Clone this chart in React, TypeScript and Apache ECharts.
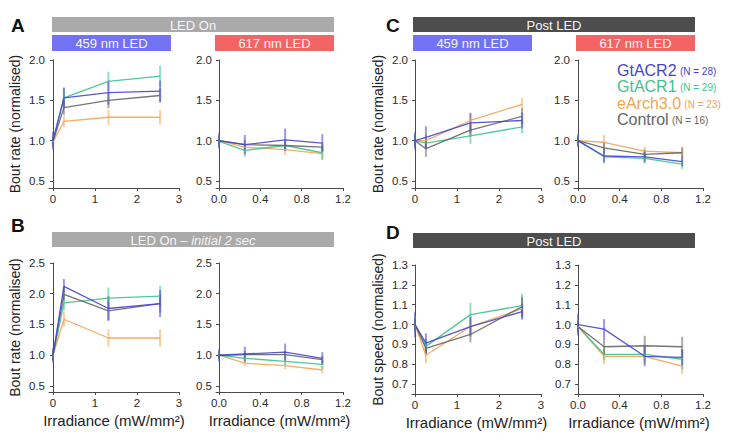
import React, { useEffect, useRef } from "react";
import * as echarts from "echarts";

// Irradiance (mW/mm²) of the stimulation steps
const blueIrr = [0, 0.26, 1.32, 2.55];
const redIrr = [0, 0.25, 0.64, 1.0];

const groups = ["GtACR2", "GtACR1", "eArch3.0", "Control"];
const groupN = [28, 29, 23, 16];
const groupColors = ["#4545d0", "#3fc28d", "#f5a352", "#666666"];

// rows: GtACR2, GtACR1, eArch3.0, Control
// A – LED On, bout rate
const aBlueMean = [[1.0, 1.53, 1.595, 1.615], [1.0, 1.53, 1.735, 1.8], [0.98, 1.24, 1.29, 1.29], [0.99, 1.41, 1.5, 1.56]];
const aBlueErr = [[0.11, 0.13, 0.15, 0.13], [0.08, 0.12, 0.12, 0.13], [0.08, 0.07, 0.09, 0.09], [0.06, 0.09, 0.1, 0.09]];
const aRedMean = [[1.0, 0.95, 1.01, 0.97], [0.99, 0.88, 0.94, 0.85], [1.0, 0.92, 0.89, 0.84], [1.0, 0.95, 0.94, 0.92]];
const aRedErr = [[0.1, 0.12, 0.14, 0.11], [0.07, 0.08, 0.06, 0.09], [0.06, 0.05, 0.07, 0.07], [0.05, 0.06, 0.05, 0.05]];

// B – LED On, initial 2 sec, bout rate
const bBlueMean = [[1.0, 2.12, 1.76, 1.84], [0.98, 1.85, 1.93, 1.96], [1.0, 1.585, 1.28, 1.28], [1.0, 1.99, 1.72, 1.84]];
const bBlueErr = [[0.12, 0.12, 0.2, 0.22], [0.06, 0.12, 0.17, 0.17], [0.1, 0.12, 0.14, 0.14], [0.08, 0.1, 0.15, 0.15]];
const bRedMean = [[1.0, 1.02, 1.05, 0.95], [1.0, 0.95, 0.9, 0.85], [1.0, 0.87, 0.83, 0.76], [1.0, 1.01, 1.01, 0.93]];
const bRedErr = [[0.1, 0.12, 0.14, 0.1], [0.06, 0.06, 0.07, 0.07], [0.05, 0.05, 0.06, 0.06], [0.05, 0.06, 0.06, 0.06]];

// C – Post LED, bout rate
const cBlueMean = [[1.0, 1.04, 1.22, 1.25], [1.0, 0.97, 1.06, 1.17], [1.0, 1.0, 1.25, 1.45], [1.0, 0.9, 1.13, 1.3]];
const cBlueErr = [[0.11, 0.14, 0.12, 0.1], [0.08, 0.07, 0.1, 0.08], [0.08, 0.08, 0.1, 0.08], [0.08, 0.1, 0.08, 0.1]];
const cRedMean = [[1.0, 0.81, 0.8, 0.74], [1.0, 0.8, 0.78, 0.71], [1.0, 0.98, 0.87, 0.85], [1.0, 0.91, 0.83, 0.85]];
const cRedErr = [[0.08, 0.09, 0.07, 0.06], [0.06, 0.06, 0.06, 0.06], [0.06, 0.09, 0.06, 0.08], [0.05, 0.06, 0.06, 0.06]];

// D – Post LED, bout speed
const dBlueMean = [[1.0, 0.906, 0.99, 1.065], [1.0, 0.89, 1.05, 1.095], [1.0, 0.845, 0.99, 1.08], [1.0, 0.88, 0.95, 1.09]];
const dBlueErr = [[0.065, 0.05, 0.05, 0.04], [0.04, 0.04, 0.06, 0.06], [0.04, 0.04, 0.04, 0.05], [0.03, 0.03, 0.04, 0.05]];
const dRedMean = [[1.0, 0.977, 0.84, 0.835], [0.99, 0.85, 0.85, 0.825], [0.99, 0.84, 0.84, 0.79], [0.99, 0.888, 0.893, 0.888]];
const dRedErr = [[0.055, 0.05, 0.05, 0.04], [0.03, 0.03, 0.04, 0.05], [0.03, 0.04, 0.04, 0.04], [0.03, 0.04, 0.05, 0.05]];

const rateTicks = [0.5, 1.0, 1.5, 2.0];
const rateTicksB = [0.5, 1.0, 1.5, 2.0, 2.5];
const speedTicks = [0.7, 0.8, 0.9, 1.0, 1.1, 1.2, 1.3];
const blueXTicks = [0, 1, 2, 3];
const redXTicks = [0, 0.4, 0.8, 1.2];

const FONT = "Liberation Sans, Arial, Helvetica, sans-serif";
const AXIS_COLOR = "#4a4a4a";
const DRAW_ORDER = [2, 1, 3, 0];

type Panel = {
  left: number; top: number; width: number; height: number;
  xMin: number; xMax: number; xTicks: number[]; xDigits: number;
  yMin: number; yMax: number; yTicks: number[];
  irr: number[]; mean: number[][]; err: number[][];
  yTitle?: string; xTitle?: boolean;
};

const panels: Panel[] = [
  { left: 49, top: 60, width: 130, height: 128, xMin: -0.095, xMax: 3, xTicks: blueXTicks, xDigits: 0, yMin: 0.413, yMax: 2.0, yTicks: rateTicks, irr: blueIrr, mean: aBlueMean, err: aBlueErr, yTitle: "Bout rate (normalised)" },
  { left: 216, top: 60, width: 127, height: 128, xMin: -0.029, xMax: 1.2, xTicks: redXTicks, xDigits: 1, yMin: 0.413, yMax: 2.0, yTicks: rateTicks, irr: redIrr, mean: aRedMean, err: aRedErr },
  { left: 412, top: 60, width: 129, height: 128, xMin: -0.071, xMax: 3, xTicks: blueXTicks, xDigits: 0, yMin: 0.413, yMax: 2.0, yTicks: rateTicks, irr: blueIrr, mean: cBlueMean, err: cBlueErr, yTitle: "Bout rate (normalised)" },
  { left: 574, top: 60, width: 129, height: 128, xMin: -0.038, xMax: 1.2, xTicks: redXTicks, xDigits: 1, yMin: 0.413, yMax: 2.0, yTicks: rateTicks, irr: redIrr, mean: cRedMean, err: cRedErr },
  { left: 49, top: 263, width: 130, height: 129, xMin: -0.095, xMax: 3, xTicks: blueXTicks, xDigits: 0, yMin: 0.402, yMax: 2.5, yTicks: rateTicksB, irr: blueIrr, mean: bBlueMean, err: bBlueErr, yTitle: "Bout rate (normalised)", xTitle: true },
  { left: 216, top: 263, width: 127, height: 129, xMin: -0.029, xMax: 1.2, xTicks: redXTicks, xDigits: 1, yMin: 0.402, yMax: 2.5, yTicks: rateTicksB, irr: redIrr, mean: bRedMean, err: bRedErr, xTitle: true },
  { left: 412, top: 265, width: 129, height: 129, xMin: -0.071, xMax: 3, xTicks: blueXTicks, xDigits: 0, yMin: 0.65, yMax: 1.3, yTicks: speedTicks, irr: blueIrr, mean: dBlueMean, err: dBlueErr, yTitle: "Bout speed (normalised)", xTitle: true },
  { left: 575, top: 265, width: 128, height: 129, xMin: -0.029, xMax: 1.2, xTicks: redXTicks, xDigits: 1, yMin: 0.65, yMax: 1.3, yTicks: speedTicks, irr: redIrr, mean: dRedMean, err: dRedErr, xTitle: true },
];

function buildOption() {
  const grid: any[] = [];
  const xAxis: any[] = [];
  const yAxis: any[] = [];
  const series: any[] = [];

  panels.forEach((p, i) => {
    grid.push({ left: p.left, top: p.top, width: p.width, height: p.height, containLabel: false, outerBoundsMode: "none" });
    const axisLine = { show: true, lineStyle: { color: AXIS_COLOR, width: 1 } };
    xAxis.push({
      type: "value", gridIndex: i, min: p.xMin, max: p.xMax,
      axisLine, splitLine: { show: false },
      axisTick: { show: true, length: 3, lineStyle: { color: AXIS_COLOR }, customValues: p.xTicks },
      axisLabel: { customValues: p.xTicks, margin: 5, fontSize: 11.5, color: "#2a2a2a", fontFamily: FONT, formatter: (v: number) => v.toFixed(p.xDigits) },
      name: p.xTitle ? "Irradiance (mW/mm²)" : "",
      nameLocation: "middle", nameGap: 21,
      nameTextStyle: { fontSize: 15, color: "#222", fontFamily: FONT },
    });
    yAxis.push({
      type: "value", gridIndex: i, min: p.yMin, max: p.yMax,
      axisLine, splitLine: { show: false },
      axisTick: { show: true, length: 3, lineStyle: { color: AXIS_COLOR }, customValues: p.yTicks },
      axisLabel: { customValues: p.yTicks, margin: 4, fontSize: 11.5, color: "#2a2a2a", fontFamily: FONT, formatter: (v: number) => v.toFixed(1) },
      name: p.yTitle || "",
      nameLocation: "middle", nameRotate: 90, nameGap: 27,
      nameTextStyle: { fontSize: 14, color: "#222", fontFamily: FONT },
    });

    DRAW_ORDER.forEach((g) => {
      const color = groupColors[g];
      series.push({
        type: "custom", name: groups[g], xAxisIndex: i, yAxisIndex: i,
        data: p.irr.map((x, k) => [x, p.mean[g][k], p.err[g][k]]),
        encode: { x: 0, y: 1 },
        renderItem: (params: any, api: any) => {
          const x = api.value(0), y = api.value(1), e = api.value(2);
          const a = api.coord([x, y - e]);
          const b = api.coord([x, y + e]);
          return { type: "line", shape: { x1: a[0], y1: a[1], x2: b[0], y2: b[1] }, style: { stroke: color, lineWidth: 2, opacity: 0.55 } };
        },
        z: 2,
      });
      series.push({
        type: "line", name: groups[g], xAxisIndex: i, yAxisIndex: i,
        data: p.irr.map((x, k) => [x, p.mean[g][k]]),
        showSymbol: false, symbol: "none",
        lineStyle: { color, width: 1.3, opacity: 0.9 },
        z: 3,
      });
    });
  });

  const banner = (x: number, y: number, w: number, h: number, fill: string, text: string, rich?: any) => ({
    type: "group", x, y,
    children: [
      { type: "rect", shape: { x: 0, y: 0, width: w, height: h }, style: { fill } },
      { type: "text", x: w / 2, y: h / 2 + 0.5, style: { text, rich, fill: "#f4f4f4", font: `13px ${FONT}`, textAlign: "center", textVerticalAlign: "middle" } },
    ],
  });
  const letter = (x: number, y: number, t: string) => ({
    type: "text", x, y, style: { text: t, fill: "#111", font: `bold 19px ${FONT}`, textVerticalAlign: "middle" },
  });

  const graphic: any[] = [
    letter(11, 25, "A"), letter(386, 25, "C"), letter(11, 225, "B"), letter(386, 232, "D"),
    banner(52, 17, 282, 15, "#aaaaaa", "LED On"),
    banner(52, 35, 119, 16, "#7272f2", "459 nm LED"),
    banner(215, 35, 119, 16, "#f46464", "617 nm LED"),
    banner(413, 17, 282, 15, "#4d4d4d", "Post LED"),
    banner(413, 35, 119, 16, "#7272f2", "459 nm LED"),
    banner(576, 35, 119, 16, "#f46464", "617 nm LED"),
    banner(52, 232, 282, 15, "#aaaaaa", "{n|LED On – }{i|initial 2 sec}", {
      n: { fill: "#f4f4f4", font: `13px ${FONT}` },
      i: { fill: "#f4f4f4", font: `italic 13px ${FONT}` },
    }),
    banner(413, 233, 282, 15, "#4d4d4d", "Post LED"),
  ];

  const legendY = [70, 86, 103, 119];
  groups.forEach((name, g) => {
    graphic.push({
      type: "text", x: 617, y: legendY[g],
      style: {
        text: `{a|${name}} {b|(N = ${groupN[g]})}`,
        textVerticalAlign: "middle",
        rich: {
          a: { fill: groupColors[g], font: `16px ${FONT}` },
          b: { fill: groupColors[g], font: `10px ${FONT}`, padding: [3, 0, 0, 0] },
        },
      },
    });
  });

  return { animation: false, backgroundColor: "#ffffff", grid, xAxis, yAxis, series, graphic };
}

export default function App() {
  const ref = useRef<HTMLDivElement>(null);
  useEffect(() => {
    if (!ref.current) return;
    const chart = echarts.init(ref.current, undefined, { renderer: "svg" });
    chart.setOption(buildOption() as any);
    return () => chart.dispose();
  }, []);
  return <div ref={ref} style={{ position: "absolute", left: 0, top: 0, width: 730, height: 441 }} />;
}
